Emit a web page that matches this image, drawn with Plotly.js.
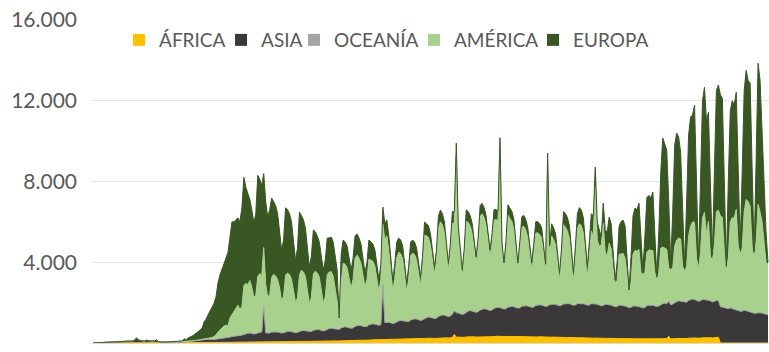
<!DOCTYPE html>
<html>
<head>
<meta charset="utf-8">
<script src="https://cdn.plot.ly/plotly-3.0.1.min.js"></script>
<style>
html,body{margin:0;padding:0;background:#ffffff;}
#chart{width:769px;height:352px;}
</style>
</head>
<body>
<div id="chart"></div>
<script>
// Daily deaths by continent, 22 Jan 2020 .. 27 Dec 2020 (one value per day, Wed..Tue per row)
const startDate = [2020, 0, 22];
const continents = ['ÁFRICA', 'ASIA', 'OCEANÍA', 'AMÉRICA', 'EUROPA'];
const colors = ['#FFC000', '#3A3838', '#A5A5A5', '#A9D18E', '#385723'];
const yTickVals = [0, 4000, 8000, 12000, 16000];

const africa = [
0,0,0,0,0,0,0,
0,0,0,0,0,0,0,
0,0,0,0,0,0,0,
0,0,0,0,0,0,0,
0,0,0,0,0,0,0,
0,0,0,0,0,0,0,
0,0,0,0,1,1,1,
1,2,2,3,3,4,5,
6,7,8,9,10,12,14,
16,18,20,22,24,26,30,
34,38,40,42,45,48,52,
55,58,60,56,54,58,62,
65,68,66,62,60,64,70,
72,75,72,68,66,70,76,
78,80,78,74,72,76,82,
85,88,86,82,80,84,90,
95,98,96,92,90,94,100,
105,110,108,104,100,105,112,
120,125,122,118,114,118,126,
135,140,138,132,128,132,142,
150,156,154,148,144,150,160,
170,176,174,168,162,168,180,
190,196,194,188,182,188,200,
210,218,215,208,200,208,222,
235,242,240,232,224,232,248,
260,268,265,256,248,256,272,
420,290,290,280,270,280,300,
310,318,315,305,295,300,320,
325,330,328,318,308,312,330,
330,335,330,320,310,312,328,
325,328,322,312,300,302,318,
315,318,312,300,290,292,308,
300,305,298,288,276,280,295,
288,292,285,275,262,266,280,
272,276,270,258,246,250,264,
255,260,252,242,232,236,248,
240,245,238,228,218,222,235,
228,232,225,216,206,210,222,
215,220,212,202,194,198,210,
205,210,204,195,188,192,205,
205,210,205,198,190,195,210,
215,222,218,330,200,206,222,
230,238,232,224,214,220,238,
250,258,252,244,234,240,258,
268,276,270,262,250,256,275,
285,0,0,0,0,0,0,
0,0,0,0,0,0,0,
0,0,0,0,0,0,0,
0,0,0,0,0
];

const asia = [
0,8,16,15,24,26,26,
38,43,46,45,57,64,66,
73,73,86,89,97,108,97,
146,254,143,142,105,98,136,
114,118,109,97,150,71,52,
35,44,47,40,46,45,50,
48,50,55,62,72,60,80,
90,85,100,110,125,140,150,
160,170,175,170,150,160,175,
185,200,210,220,230,240,260,
280,300,320,330,330,340,380,
400,420,430,400,390,400,440,
460,470,1760,440,420,430,470,
480,490,470,450,430,440,480,
490,500,480,460,440,450,500,
520,530,510,490,470,480,540,
560,570,560,530,510,530,590,
610,620,600,580,560,570,640,
660,680,660,640,620,630,700,
720,740,720,700,680,690,760,
780,800,780,760,740,750,2750,
850,860,850,830,800,820,880,
900,920,900,880,860,870,940,
960,980,970,950,920,940,1000,
1020,1050,1040,1010,990,1000,1070,
1100,1120,1110,1080,1060,1080,1150,
1180,1200,1190,1160,1140,1160,1230,
1260,1280,1270,1240,1220,1240,1300,
1330,1350,1340,1310,1290,1310,1370,
1400,1420,1410,1380,1360,1370,1430,
1450,1470,1460,1440,1420,1430,1490,
1500,1520,1510,1490,1470,1480,1540,
1560,1580,1570,1550,1530,1540,1600,
1610,1630,1620,1600,1580,1590,1650,
1660,1680,1670,1650,1620,1630,1690,
1690,1700,1690,1670,1640,1650,1700,
1700,1690,1680,1650,1620,1630,1680,
1680,1670,1650,1620,1590,1600,1650,
1650,1640,1620,1590,1560,1570,1620,
1630,1620,1600,1580,1550,1570,1640,
1660,1670,1660,1640,1620,1640,1700,
1730,1750,1740,1720,1700,1720,1780,
1820,1850,1840,1810,1790,1800,1870,
1900,1920,1900,1870,1840,1850,1900,
1880,1870,1850,1820,1790,1800,1840,
1820,1800,1780,1740,1700,1700,1740,
1700,1680,1650,1610,1570,1580,1620,
1600,1580,1550,1510,1470,1480,1520,
1500,1480,1450,1420,1400
];

const oceania = [
0,0,0,0,0,0,0,
0,0,0,0,0,0,0,
0,0,0,0,0,0,0,
0,0,0,0,0,0,0,
0,0,0,0,0,0,0,
0,0,0,0,0,0,0,
0,0,0,1,0,0,0,
0,0,0,0,0,2,0,
1,0,0,1,0,0,1,
0,1,2,3,1,2,2,
3,2,3,1,2,4,3,
4,5,4,2,3,2,3,
5,4,3,2,3,1,2,
3,1,2,1,0,1,2,
1,2,1,0,1,1,0,
1,0,1,0,0,1,0,
0,1,0,0,0,1,0,
1,0,0,0,0,0,1,
0,0,0,0,0,0,0,
0,0,0,0,0,0,0,
0,0,0,0,0,0,0,
0,0,0,0,0,0,0,
0,0,1,0,0,0,0,
0,1,0,0,0,1,0,
0,1,1,0,0,1,2,
2,3,2,1,1,3,4,
4,5,6,4,3,5,8,
10,12,9,8,6,11,13,
15,17,14,12,10,19,21,
18,22,16,14,12,17,20,
16,19,15,12,10,15,18,
17,14,12,10,8,12,15,
12,11,9,8,6,9,10,
7,8,6,5,4,6,7,
5,4,4,3,2,3,4,
3,2,2,1,1,2,2,
2,1,1,0,1,1,1,
1,1,0,0,1,0,1,
0,1,0,0,0,1,0,
0,0,0,0,0,0,0,
0,0,0,0,0,0,0,
0,0,0,0,0,0,0,
0,0,0,0,0,0,0,
0,0,0,0,0,0,0,
0,0,0,0,0,0,0,
0,0,0,0,0,0,0,
0,0,0,0,0,0,0,
0,0,0,0,0,0,0,
0,0,0,0,0
];

const america = [
0,0,0,0,0,0,0,
0,0,0,0,0,0,0,
0,0,0,0,0,0,0,
0,0,0,0,0,0,0,
0,0,0,0,0,0,0,
0,0,0,1,0,1,4,
3,1,4,3,2,5,7,
8,10,12,14,16,25,30,
40,55,70,90,110,150,220,
350,420,500,600,620,600,950,
1100,1250,1400,1500,1300,1400,2400,
2500,2400,2600,2300,1800,1900,2800,
2900,2800,2900,2400,1800,1900,2700,
2850,2750,2600,2200,1600,1800,2800,
2900,2800,2600,2100,1500,1700,2800,
3000,2900,2700,2100,1400,1700,2800,
2900,2800,2600,2100,1400,1650,2700,
2800,2800,2600,2100,1400,1300,2200,
3170,3100,2940,2440,1980,2400,3370,
3500,3320,3090,2420,1960,2330,3250,
3170,3090,2870,2290,1670,2250,2970,
4080,4280,3530,2350,1610,2210,3160,
3410,3300,3060,2180,1480,2140,3180,
3280,3180,2920,2220,1730,2590,4120,
4050,3930,3560,2780,2170,2850,4380,
4640,4460,4110,3110,2300,3060,4500,
4340,7870,3820,2730,1860,2780,4490,
4390,4180,3820,3040,2420,3190,4640,
4730,4520,4150,3270,2680,3320,4360,
4370,4270,7950,2910,1980,2870,4550,
4400,4200,3840,2850,1920,2810,3900,
3950,3740,3380,2490,1860,2650,3590,
3580,3480,3310,2420,1730,7080,2330,
3400,3200,2940,2050,1250,2300,3930,
3790,3580,3220,2140,1170,2300,3730,
3960,3840,3510,2340,1390,2390,3600,
3360,5830,3180,2920,3010,4080,2590,
2390,3040,2780,1860,1170,1290,2530,
2540,2580,2370,1410,770,1230,2570,
2750,2720,2830,1730,1660,1740,2660,
2740,2720,2710,1660,1290,1670,2790,
2810,2730,2690,1650,1750,1770,2800,
3050,3110,3080,1770,1550,1780,3190,
3640,3820,3830,2090,1630,2410,4040,
4320,3250,3910,2220,2020,2840,4390,
4470,4500,4450,2760,1900,2500,4260,
4500,4520,4970,3190,2830,3120,4880,
5510,5420,5220,3290,2730,3520,5340,
5000,4520,3550,2580,2500
];

const europa = [
0,0,0,0,0,0,0,
0,0,0,0,0,0,0,
0,0,0,0,0,0,0,
0,0,1,0,0,0,0,
0,0,0,0,0,0,0,
1,2,4,9,5,18,27,
28,41,49,40,135,100,175,
200,250,300,350,420,480,560,
850,950,1150,1350,1550,1650,1900,
2450,2750,2970,3050,3330,3630,4160,
4590,4410,4340,4330,4330,4910,5370,
4750,4520,4010,3840,3700,4040,5000,
4680,4460,3670,4100,3960,4210,3940,
3600,3490,3260,2780,2500,2790,3340,
3130,3020,2840,2370,2090,2470,3100,
2700,2580,2400,1930,1810,2040,2170,
1950,1830,1740,1580,1610,1830,1810,
1690,1720,1690,1520,1540,-735,1450,
1150,1100,1080,1000,900,1050,1100,
1050,1000,950,850,700,850,950,
900,850,800,700,600,750,850,
800,780,750,650,550,700,780,
700,680,650,550,450,600,680,
650,620,600,520,420,560,650,
600,580,560,480,380,520,600,
580,550,520,450,350,500,580,
560,540,500,430,340,480,560,
540,520,500,420,330,470,540,
520,500,480,400,320,460,520,
500,480,460,390,310,450,520,
520,500,480,400,320,460,530,
540,520,500,420,340,480,550,
560,540,520,440,360,500,580,
600,580,560,480,380,540,640,
680,660,640,550,430,620,720,
800,780,750,650,500,720,850,
1000,950,900,800,400,1000,1100,
1200,1300,1250,900,150,900,1400,
1600,1650,1600,1200,100,1300,1900,
2100,2050,2300,1700,200,1800,2700,
2700,2600,2900,2000,200,2000,3800,
5400,5100,4900,3300,250,2800,5000,
5300,5000,4300,3200,250,3200,5000,
5400,5300,5800,3800,300,3500,5800,
6200,5600,5400,3700,300,3600,6000,
6200,6000,5900,4000,200,3800,5500,
5800,5600,5800,4000,400,3800,6000,
6400,6000,6100,4200,300,4000,7000,
6500,4500,2500,1500,100
];

const series = [africa, asia, oceania, america, europa];
const lens = series.map(s => s.length);
if (lens.some(n => n !== lens[0])) {
  throw new Error('Series length mismatch: ' + lens.join(','));
}

const dates = africa.map((_, i) => {
  const d = new Date(Date.UTC(startDate[0], startDate[1], startDate[2] + i));
  return d.toISOString().slice(0, 10);
});

const areaTraces = series.map((vals, i) => ({
  type: 'scatter',
  mode: 'lines',
  x: dates,
  y: vals,
  stackgroup: 'continentes',
  name: continents[i],
  line: {color: colors[i], width: 1},
  fillcolor: colors[i],
  showlegend: false,
  hoverinfo: 'skip'
}));

// one small legend per continent, so each entry sits where it does in the reference
const legendIds = ['legend', 'legend2', 'legend3', 'legend4', 'legend5'];
const legendX = [0.0399, 0.1906, 0.2984, 0.4756, 0.6514];

const legendTraces = continents.map((n, i) => ({
  type: 'scatter',
  mode: 'markers',
  x: [null],
  y: [null],
  name: n,
  legend: legendIds[i],
  marker: {symbol: 'square', size: 12, color: colors[i]},
  showlegend: true,
  hoverinfo: 'skip'
}));

const legendFont = {family: 'Lato, "Open Sans", sans-serif', size: 19, color: '#595959'};

const layout = {
  width: 769,
  height: 352,
  margin: {l: 92, r: 0, t: 20, b: 9, pad: 0},
  paper_bgcolor: '#ffffff',
  plot_bgcolor: '#ffffff',
  separators: ',.',
  font: {family: 'Lato, "Open Sans", sans-serif', size: 21, color: '#595959'},
  xaxis: {
    type: 'date',
    range: ['2020-01-21 12:00', '2020-12-27 12:00'],
    showticklabels: false,
    ticks: '',
    showgrid: false,
    zeroline: false,
    showline: true,
    linecolor: '#D9D9D9',
    linewidth: 1,
    fixedrange: true
  },
  yaxis: {
    range: [0, 16000],
    tickmode: 'array',
    tickvals: yTickVals,
    tickformat: ',d',
    ticks: '',
    showgrid: true,
    gridcolor: '#E6E6E6',
    gridwidth: 1,
    zeroline: false,
    showline: false,
    ticklabelstandoff: 14,
    tickfont: {family: 'Lato, "Open Sans", sans-serif', size: 21, color: '#595959'},
    fixedrange: true
  },
  showlegend: true
};

legendIds.forEach((id, i) => {
  layout[id] = {
    orientation: 'h',
    x: legendX[i],
    xanchor: 'left',
    y: 0.938,
    yanchor: 'middle',
    bgcolor: 'rgba(0,0,0,0)',
    borderwidth: 0,
    font: legendFont
  };
});

Plotly.newPlot('chart', areaTraces.concat(legendTraces), layout, {displayModeBar: false, staticPlot: true});
</script>
</body>
</html>
